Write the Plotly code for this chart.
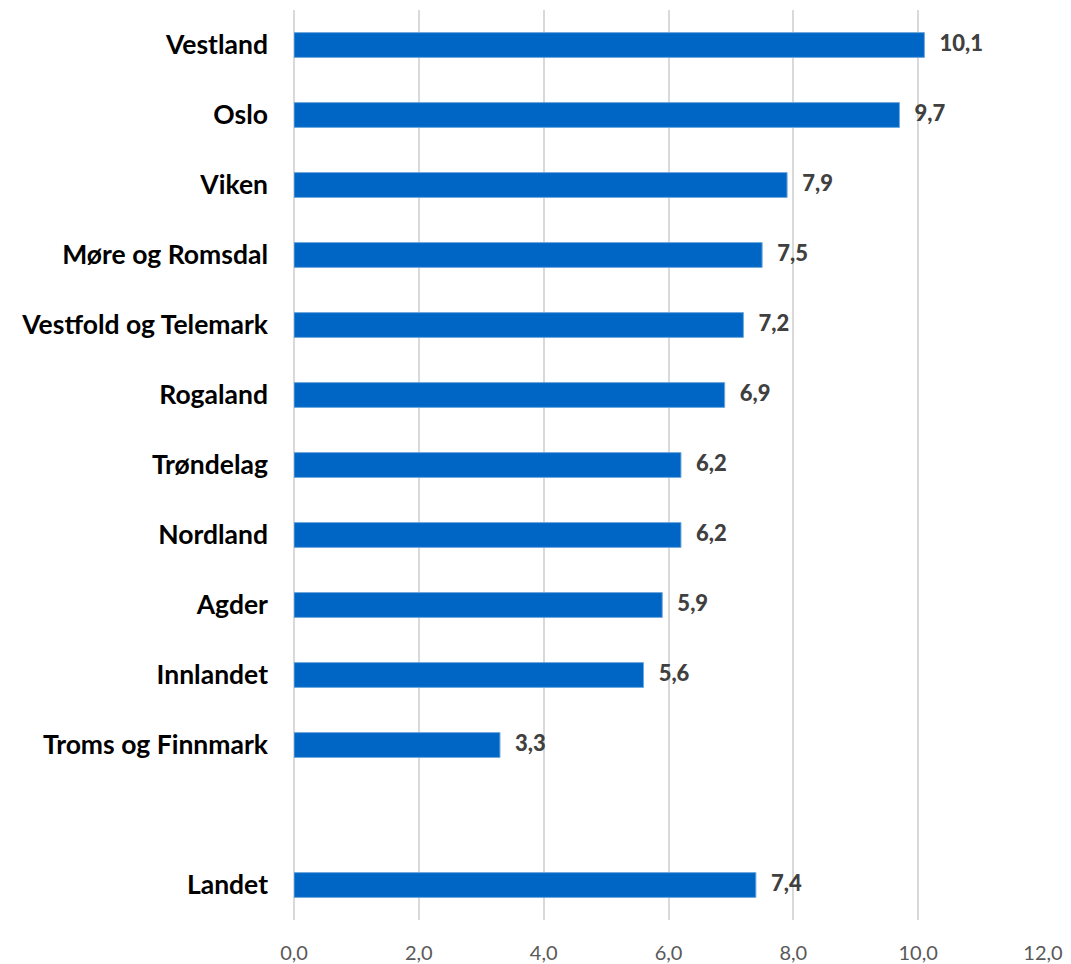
import plotly.graph_objects as go

categories = ["Vestland", "Oslo", "Viken", "Møre og Romsdal", "Vestfold og Telemark",
              "Rogaland", "Trøndelag", "Nordland", "Agder", "Innlandet",
              "Troms og Finnmark", " ", "Landet"]
values = [10.1, 9.7, 7.9, 7.5, 7.2, 6.9, 6.2, 6.2, 5.9, 5.6, 3.3, None, 7.4]
x_ticks = [0, 2, 4, 6, 8, 10, 12]

fig = go.Figure()
fig.add_trace(go.Bar(
    x=values, y=categories, orientation="h",
    width=0.355,
    marker=dict(color="#0066C6", line=dict(color="#6FA8DC", width=1)),
    hoverinfo="skip",
))

fig.add_trace(go.Scatter(
    x=[v for v in values if v is not None],
    y=[c for c, v in zip(categories, values) if v is not None],
    mode="text",
    text=["\u2002\u2009\u200A" + f"{v:.1f}".replace(".", ",") for v in values if v is not None],
    textposition="middle right",
    textfont=dict(family="Lato", size=22, color="#404040", weight=900),
    hoverinfo="skip",
    cliponaxis=False,
))

fig.update_layout(
    width=1071, height=964,
    margin=dict(l=294, r=28, t=10, b=44),
    plot_bgcolor="white", paper_bgcolor="white",
    showlegend=False,
    separators=",.",
    bargap=0.5,
)
fig.update_xaxes(
    range=[0, 12], tickvals=x_ticks, tickformat=".1f",
    showgrid=True, gridcolor="#D9D9D9", gridwidth=2,
    zeroline=True, zerolinecolor="#D9D9D9", zerolinewidth=2,
    showline=False, ticks="",
    tickfont=dict(family="Lato", size=20, color="#595959"),
    ticklabelstandoff=19,
    automargin=False,
)
fig.update_yaxes(
    categoryorder="array", categoryarray=categories,
    range=[len(categories) - 0.5, -0.5], autorange=False,
    showgrid=False, zeroline=False, showline=False, ticks="",
    tickfont=dict(family="Lato", size=26.5, color="#000000", weight="bold"),
    ticklabelstandoff=25,
    automargin=False,
)

fig.write_html("out.html", config={"displayModeBar": False},
               post_script="document.body.style.margin='0';")
